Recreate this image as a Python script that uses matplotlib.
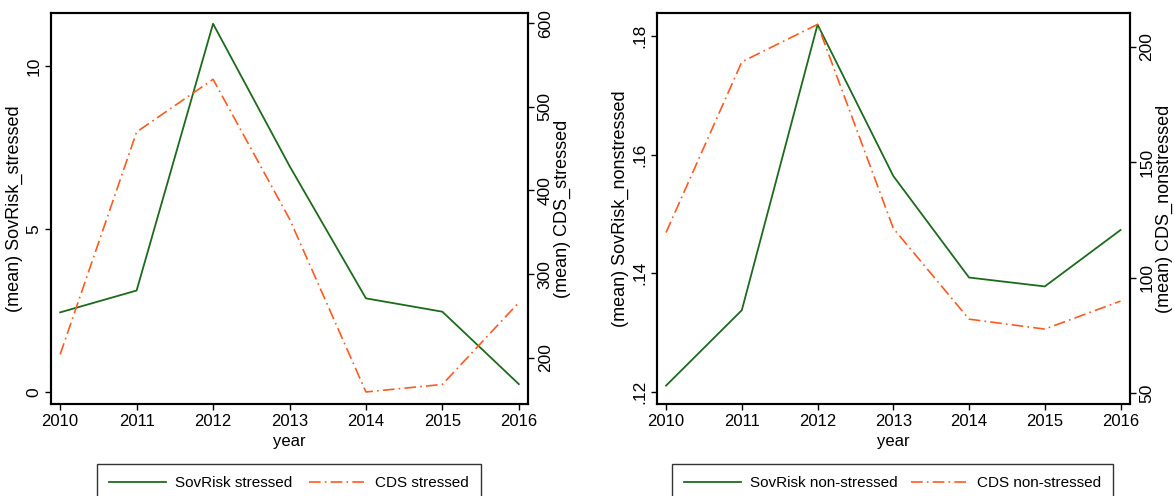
import numpy as np
import matplotlib.pyplot as plt
from matplotlib.ticker import FuncFormatter

plt.rcParams['font.family'] = ['Liberation Sans', 'DejaVu Sans']
plt.rcParams['font.size'] = 11

#%% data
years = [2010, 2011, 2012, 2013, 2014, 2015, 2016]

sovrisk_stressed = [2.45, 3.12, 11.3, 6.94, 2.88, 2.47, 0.25]
cds_stressed = [204, 470, 533, 366, 159, 168, 266]

sovrisk_nonstressed = [0.1211, 0.1338, 0.1819, 0.1564, 0.1393, 0.1378, 0.1473]
cds_nonstressed = [119.6, 193.4, 209.6, 121.4, 82.1, 77.8, 89.9]

green = '#1c6b1c'
orange = '#ff5a1f'
dash = [7, 2.5, 1, 2.5]

fig = plt.figure(figsize=(11.74, 4.96), dpi=100)


def strip_zero(v, pos):
    s = '%g' % v
    return s[1:] if s.startswith('0.') else s


def panel(rect, y1, y2, ylab1, ylab2, lab1, lab2, lim1, lim2, ticks1, ticks2, leg_rect):
    ax = fig.add_axes(rect)
    ax2 = ax.twinx()
    l1, = ax.plot(years, y1, color=green, lw=1.3)
    l2, = ax2.plot(years, y2, color=orange, lw=1.2, dashes=dash)
    ax.set_xlim(2009.88, 2016.12)
    ax.set_ylim(*lim1)
    ax2.set_ylim(*lim2)
    ax.set_xticks(years)
    ax.set_yticks(ticks1)
    ax2.set_yticks(ticks2)
    ax.yaxis.set_major_formatter(FuncFormatter(strip_zero))
    ax.set_xlabel('year', labelpad=4, fontsize=12)
    ax.set_ylabel(ylab1, labelpad=2.5, fontsize=13)
    ax2.set_ylabel(ylab2, labelpad=1, rotation=90, fontsize=13)
    for a in (ax, ax2):
        a.tick_params(direction='out', length=4, width=1, pad=3, labelsize=12)
        a.tick_params(axis='y', labelrotation=90, labelsize=12.5, pad=3)
        for s in a.spines.values():
            s.set_linewidth(1.5)
    for t in ax.get_yticklabels() + ax2.get_yticklabels():
        t.set_va('center')
    fig.legend([l1, l2], [lab1, lab2], loc='upper left', ncol=2, mode='expand',
               bbox_to_anchor=leg_rect, bbox_transform=fig.transFigure,
               fancybox=False, edgecolor='#333333', framealpha=1,
               handlelength=3.7, handletextpad=0.6, borderpad=0.8,
               borderaxespad=0, fontsize=11)
    return ax


W, H = 1174.0, 496.0
panel([51 / W, 1 - 404 / H, 477 / W, 391 / H],
      sovrisk_stressed, cds_stressed,
      '(mean) SovRisk_stressed', '(mean) CDS_stressed',
      'SovRisk stressed', 'CDS stressed',
      (-0.36, 11.63), (144.6, 612.3), [0, 5, 10], [200, 300, 400, 500, 600],
      (97 / W, 1 - 505 / H, 384 / W, 41 / H))

panel([657 / W, 1 - 404 / H, 472.6 / W, 390.7 / H],
      sovrisk_nonstressed, cds_nonstressed,
      '(mean) SovRisk_nonstressed', '(mean) CDS_nonstressed',
      'SovRisk non-stressed', 'CDS non-stressed',
      (0.118, 0.1838), (45.4, 214.4), [0.12, 0.14, 0.16, 0.18], [50, 100, 150, 200],
      (672 / W, 1 - 505 / H, 441 / W, 41 / H))

fig.savefig('out.png', dpi=100)
